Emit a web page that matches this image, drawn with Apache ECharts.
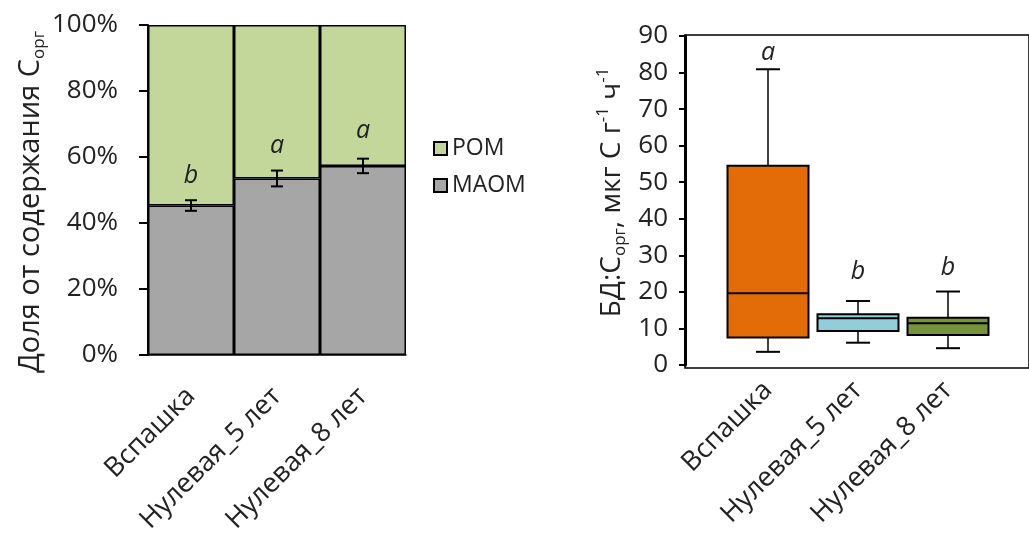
<!DOCTYPE html>
<html><head><meta charset="utf-8">
<script src="https://cdn.jsdelivr.net/npm/echarts@6/dist/echarts.min.js"></script>
<style>html,body{margin:0;padding:0;background:#fff}#c{width:1029px;height:536px}</style>
</head><body><div id="c"></div>
<script>
// ---- data ----
const categories = ['Вспашка', 'Нулевая_5 лет', 'Нулевая_8 лет'];
const maom = [45.3, 53.5, 57.3];
const pom = [54.7, 46.5, 42.7];
const maomErr = [1.6, 2.4, 2.2];
const leftLetters = ['b', 'a', 'a'];
const leftLetterY = [54.2, 63.3, 67.8];

const boxMin = [3.6, 6.1, 4.6];
const boxQ1 = [7.5, 9.3, 8.2];
const boxMedian = [19.6, 12.8, 11.4];
const boxQ3 = [54.5, 13.9, 12.9];
const boxMax = [80.9, 17.5, 20.1];
const boxColors = ['#e36c09', '#92cddc', '#77933c'];
const rightLetters = ['a', 'b', 'b'];
const rightLetterY = [85.4, 25.4, 26.5];

// ---- chart ----
const FONT = 'Open Sans';
const TXT = '#222';
const chart = echarts.init(document.getElementById('c'), null, {renderer: 'canvas'});

function richSet(size) {
  return {
    n: {fontSize: size, fontFamily: FONT, color: TXT, lineHeight: 34},
    s: {fontSize: Math.round(size * 0.6), fontFamily: FONT, color: TXT, lineHeight: 16, verticalAlign: 'bottom'},
    p: {fontSize: Math.round(size * 0.6), fontFamily: FONT, color: TXT, lineHeight: 16, verticalAlign: 'top'}
  };
}

const option = {
  animation: false,
  backgroundColor: '#fff',
  textStyle: {fontFamily: FONT},
  legend: {
    data: ['POM', 'MAOM'],
    orient: 'vertical',
    left: 428, top: 132,
    itemWidth: 13, itemHeight: 13, itemGap: 14,
    icon: 'rect',
    textStyle: {fontSize: 23, fontFamily: FONT, color: TXT}
  },
  grid: [
    {left: 148, top: 25, width: 258, height: 332},
    {left: 685, top: 35, width: 370, height: 333, show: true, borderColor: '#000', borderWidth: 1.5},
    {left: 723, top: 36, width: 270, height: 329}
  ],
  xAxis: [
    {type: 'category', gridIndex: 0, data: categories,
     axisLine: {lineStyle: {color: '#000', width: 1.5}}, axisTick: {show: false},
     axisLabel: {rotate: 45, fontSize: 27, fontFamily: FONT, color: TXT, margin: 37, interval: 0}},
    {type: 'value', gridIndex: 1, show: false, min: 0, max: 1},
    {type: 'category', gridIndex: 2, data: categories,
     axisLine: {show: false}, axisTick: {show: false},
     axisLabel: {rotate: 45, fontSize: 27, fontFamily: FONT, color: TXT, margin: 21, interval: 0}}
  ],
  yAxis: [
    {type: 'value', gridIndex: 0, min: 0, max: 100, interval: 20,
     axisLine: {show: true, lineStyle: {color: '#000', width: 2}},
     axisTick: {show: true, length: 9, lineStyle: {color: '#000', width: 2}},
     splitLine: {show: false},
     axisLabel: {formatter: '{value}%', fontSize: 26, fontFamily: FONT, color: TXT, margin: 30},
     name: '{n|Доля от содержания C}{s|орг}', nameLocation: 'middle', nameGap: 98,
     nameTextStyle: {rich: richSet(29), padding: [0, 24, 0, 0]}},
    {type: 'value', gridIndex: 1, show: false, min: 0, max: 1},
    {type: 'value', gridIndex: 2, min: 0, max: 90, interval: 10, offset: 38,
     axisLine: {show: true, lineStyle: {color: '#000', width: 3}},
     axisTick: {show: true, length: 6, lineStyle: {color: '#000', width: 2}},
     splitLine: {show: false},
     axisLabel: {fontSize: 26, fontFamily: FONT, color: TXT, margin: 17},
     name: '{n|БД:C}{s|орг}{n|, мкг C г}{p|-1}{n| ч}{p|-1}', nameLocation: 'middle', nameGap: 56,
     nameTextStyle: {rich: richSet(28), padding: [0, 0, 0, 16]}}
  ],
  series: [
    {name: 'MAOM', type: 'bar', stack: 'frac', xAxisIndex: 0, yAxisIndex: 0,
     data: maom, barCategoryGap: '0%',
     itemStyle: {color: '#a6a6a6', borderColor: '#000', borderWidth: 1.5}},
    {name: 'POM', type: 'bar', stack: 'frac', xAxisIndex: 0, yAxisIndex: 0,
     data: pom, barCategoryGap: '0%',
     itemStyle: {color: '#c4d79b', borderColor: '#000', borderWidth: 1.5}},
    {type: 'custom', xAxisIndex: 0, yAxisIndex: 0, z: 5,
     data: categories.map((c, i) => [i, maom[i] - maomErr[i], maom[i] + maomErr[i]]),
     renderItem: function (params, api) {
       const lo = api.coord([api.value(0), api.value(1)]);
       const hi = api.coord([api.value(0), api.value(2)]);
       const hw = 6;
       const st = {stroke: '#000', lineWidth: 2};
       return {type: 'group', children: [
         {type: 'line', shape: {x1: lo[0], y1: lo[1], x2: hi[0], y2: hi[1]}, style: st},
         {type: 'line', shape: {x1: lo[0] - hw, y1: lo[1], x2: lo[0] + hw, y2: lo[1]}, style: st},
         {type: 'line', shape: {x1: hi[0] - hw, y1: hi[1], x2: hi[0] + hw, y2: hi[1]}, style: st}
       ]};
     }},
    {type: 'custom', xAxisIndex: 0, yAxisIndex: 0, z: 6,
     data: categories.map((c, i) => [i, leftLetterY[i]]),
     renderItem: function (params, api) {
       const p = api.coord([api.value(0), api.value(1)]);
       return {type: 'text', x: p[0], y: p[1], style: {text: leftLetters[params.dataIndex],
         font: 'italic 25px "' + FONT + '"', fill: TXT, align: 'center', verticalAlign: 'middle'}};
     }},
    {type: 'custom', xAxisIndex: 2, yAxisIndex: 2, z: 5,
     data: categories.map((c, i) => [i, boxMin[i], boxQ1[i], boxMedian[i], boxQ3[i], boxMax[i]]),
     encode: {x: 0, y: [1, 2, 3, 4, 5]},
     renderItem: function (params, api) {
       const i = params.dataIndex;
       const x = api.value(0);
       const band = api.size([1, 0])[0];
       const w = band * 0.9;
       const cap = 12;
       const pMin = api.coord([x, api.value(1)]);
       const pQ1 = api.coord([x, api.value(2)]);
       const pMed = api.coord([x, api.value(3)]);
       const pQ3 = api.coord([x, api.value(4)]);
       const pMax = api.coord([x, api.value(5)]);
       const cx = pMin[0];
       const st = {stroke: '#000', lineWidth: 1.5};
       return {type: 'group', children: [
         {type: 'line', shape: {x1: cx, y1: pMax[1], x2: cx, y2: pQ3[1]}, style: st},
         {type: 'line', shape: {x1: cx, y1: pQ1[1], x2: cx, y2: pMin[1]}, style: st},
         {type: 'line', shape: {x1: cx - cap, y1: pMax[1], x2: cx + cap, y2: pMax[1]}, style: {stroke: '#000', lineWidth: 2}},
         {type: 'line', shape: {x1: cx - cap, y1: pMin[1], x2: cx + cap, y2: pMin[1]}, style: {stroke: '#000', lineWidth: 2}},
         {type: 'rect', shape: {x: cx - w / 2, y: pQ3[1], width: w, height: pQ1[1] - pQ3[1]},
          style: {fill: boxColors[i], stroke: '#000', lineWidth: 2}},
         {type: 'line', shape: {x1: cx - w / 2, y1: pMed[1], x2: cx + w / 2, y2: pMed[1]}, style: {stroke: '#000', lineWidth: 2}}
       ]};
     }},
    {type: 'custom', xAxisIndex: 2, yAxisIndex: 2, z: 6,
     data: categories.map((c, i) => [i, rightLetterY[i]]),
     renderItem: function (params, api) {
       const p = api.coord([api.value(0), api.value(1)]);
       return {type: 'text', x: p[0], y: p[1], style: {text: rightLetters[params.dataIndex],
         font: 'italic 25px "' + FONT + '"', fill: TXT, align: 'center', verticalAlign: 'middle'}};
     }}
  ]
};
chart.setOption(option);
</script>
</body></html>
